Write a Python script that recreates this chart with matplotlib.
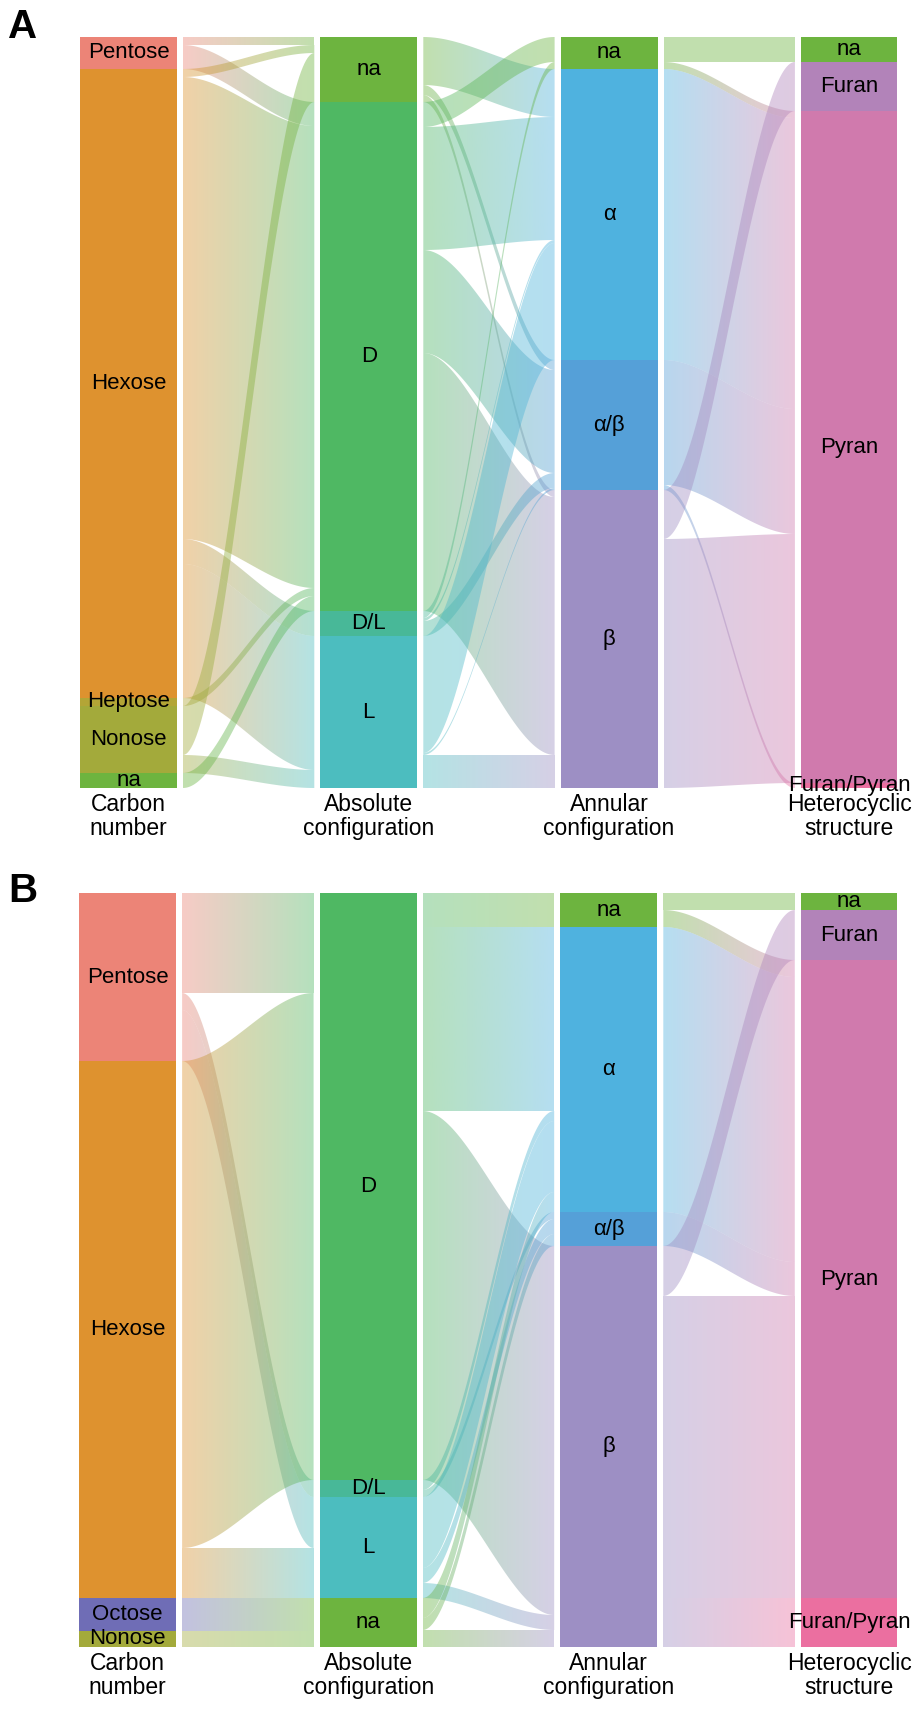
import numpy as np
import matplotlib.pyplot as plt
from matplotlib.patches import Rectangle, Polygon
from matplotlib.colors import to_rgb

plt.rcParams['font.family'] = ['Liberation Sans', 'DejaVu Sans']

# axis titles shared by both panels
axis_titles = ["Carbon\nnumber", "Absolute\nconfiguration",
               "Annular\nconfiguration", "Heterocyclic\nstructure"]

# ---- panel A ----
a_carbon = ["Pentose", "Hexose", "Heptose", "Nonose", "na"]
a_absolute = ["na", "D", "D/L", "L"]
a_annular = ["na", "α", "α/β", "β"]
a_ring = ["na", "Furan", "Pyran", "Furan/Pyran"]

# rows = left axis strata, cols = right axis strata
a_carbon_absolute = [
    [8, 24, 0, 0],
    [8, 462, 25, 134],
    [0, 8, 0, 0],
    [49, 0, 0, 18],
    [0, 15, 0, 0],
]
a_absolute_annular = [
    [0, 48, 10, 7],
    [25, 123, 103, 258],
    [7, 3, 15, 0],
    [0, 117, 2, 33],
]
a_annular_ring = [
    [25, 0, 7, 0],
    [0, 0, 291, 0],
    [0, 0, 125, 5],
    [0, 49, 249, 0],
]

# ---- panel B ----
b_carbon = ["Pentose", "Hexose", "Octose", "Nonose"]
b_absolute = ["D", "D/L", "L", "na"]
b_annular = ["na", "α", "α/β", "β"]
b_ring = ["na", "Furan", "Pyran", "Furan/Pyran"]

b_carbon_absolute = [
    [100, 17, 51, 0],
    [487, 0, 50, 0],
    [0, 0, 0, 33],
    [0, 0, 0, 16],
]
b_absolute_annular = [
    [34, 184, 0, 369],
    [0, 10, 7, 0],
    [0, 71, 15, 15],
    [0, 20, 12, 17],
]
b_annular_ring = [
    [17, 0, 17, 0],
    [0, 0, 285, 0],
    [0, 0, 34, 0],
    [0, 50, 302, 49],
]

node_colors = {
    "Pentose": "#EC8477",
    "Hexose": "#DE922F",
    "Heptose": "#B3A536",
    "Octose": "#6F6DB6",
    "Nonose": "#A3AA3B",
    "na": "#6DB43F",
    "D": "#4FB863",
    "D/L": "#48B898",
    "L": "#4CBDBF",
    "α": "#4FB2DF",
    "α/β": "#55A0D8",
    "β": "#9D8FC4",
    "Furan": "#B283B9",
    "Pyran": "#D07AAD",
    "Furan/Pyran": "#EB6FA0",
}

NODE_W = 97
COL_STEP = 240.3
GAP = 6
FLOW_ALPHA = 0.42
X_MAX = 817


def smooth_edge(x0, x1, y0, y1, n=80):
    t = np.linspace(0, 1, n)
    s = t * t * (3 - 2 * t)
    return x0 + (x1 - x0) * t, y0 + (y1 - y0) * s


def draw_flow(ax, xa, xb, ya, yb, h, c0, c1, total):
    xs, top = smooth_edge(xa, xb, ya, yb)
    _, bot = smooth_edge(xa, xb, ya + h, yb + h)
    verts = np.vstack([np.column_stack([xs, top]),
                       np.column_stack([xs[::-1], bot[::-1]])])
    poly = Polygon(verts, closed=True, fc='none', ec='none')
    ax.add_patch(poly)
    grad = np.zeros((1, 200, 4))
    grad[0, :, :3] = np.linspace(to_rgb(c0), to_rgb(c1), 200)
    grad[0, :, 3] = FLOW_ALPHA
    im = ax.imshow(grad, extent=(xa, xb, total, 0), aspect='auto',
                   interpolation='bilinear', zorder=2)
    im.set_clip_path(poly)


def draw_panel(ax, columns, flows):
    flows = [np.asarray(f, dtype=float) for f in flows]
    sizes = [f.sum(axis=1) for f in flows] + [flows[-1].sum(axis=0)]
    total = sizes[0].sum()
    tops = [np.concatenate([[0], np.cumsum(s)[:-1]]) for s in sizes]

    # ribbons between neighbouring axes
    for i, f in enumerate(flows):
        xa = i * COL_STEP + NODE_W + GAP
        xb = (i + 1) * COL_STEP - GAP
        n_src, n_dst = f.shape
        src_y = np.zeros_like(f)
        dst_y = np.zeros_like(f)
        for s in range(n_src):
            y = tops[i][s]
            for t in range(n_dst):
                src_y[s, t] = y
                y += f[s, t]
        for t in range(n_dst):
            y = tops[i + 1][t]
            for s in range(n_src):
                dst_y[s, t] = y
                y += f[s, t]
        for s in range(n_src):
            for t in range(n_dst):
                if f[s, t] <= 0:
                    continue
                draw_flow(ax, xa, xb, src_y[s, t], dst_y[s, t], f[s, t],
                          node_colors[columns[i][s]],
                          node_colors[columns[i + 1][t]], total)

    # strata
    for i, (labels, sz, tp) in enumerate(zip(columns, sizes, tops)):
        x0 = i * COL_STEP
        for lab, h, y in zip(labels, sz, tp):
            ax.add_patch(Rectangle((x0, y), NODE_W, h, fc=node_colors[lab],
                                   ec='none', zorder=3))
            ax.text(x0 + NODE_W / 2, y + h / 2, lab, ha='center', va='center',
                    fontsize=16, zorder=5)
        ax.text(x0 + NODE_W / 2, total + 5, axis_titles[i], ha='center',
                va='top', fontsize=16.5, linespacing=1.05, zorder=5)

    ax.set_xlim(0, X_MAX)
    ax.set_ylim(total, 0)
    ax.axis('off')


fig = plt.figure(figsize=(9.19, 17.10), dpi=100)
W, H = 919, 1710

ax_a = fig.add_axes([80 / W, 1 - 788 / H, 817 / W, 751 / H])
draw_panel(ax_a, [a_carbon, a_absolute, a_annular, a_ring],
           [a_carbon_absolute, a_absolute_annular, a_annular_ring])

ax_b = fig.add_axes([79 / W, 1 - 1647 / H, 818 / W, 754 / H])
draw_panel(ax_b, [b_carbon, b_absolute, b_annular, b_ring],
           [b_carbon_absolute, b_absolute_annular, b_annular_ring])

fig.text(23 / W, 1 - 27 / H, "A", fontsize=29, fontweight='bold',
         ha='center', va='center')
fig.text(23 / W, 1 - 891 / H, "B", fontsize=29, fontweight='bold',
         ha='center', va='center')

fig.savefig("out.png", dpi=100, facecolor='white')
